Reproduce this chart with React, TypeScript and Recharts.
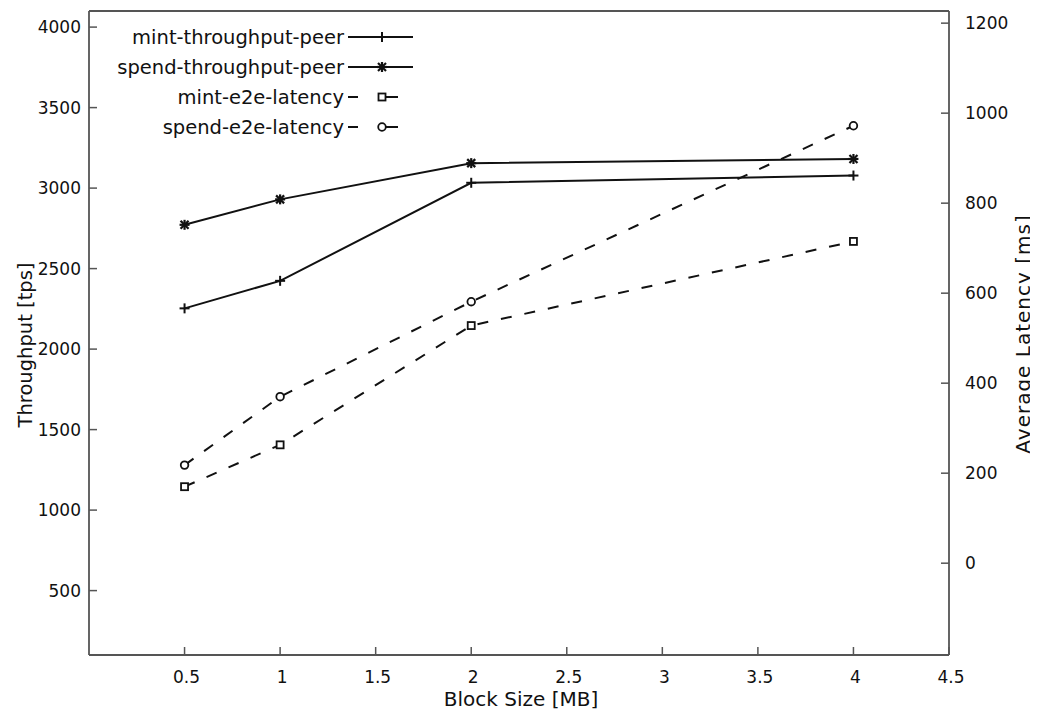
import { ComposedChart, Label, Legend, Line, XAxis, YAxis } from "recharts";

// block sizes in MB
const BLOCK_SIZES = [0.5, 1, 2, 4];

// throughput, tps (left axis)
const MINT_THROUGHPUT = [2253, 2424, 3033, 3078];
const SPEND_THROUGHPUT = [2772, 2930, 3155, 3181];

// end-to-end latency, ms (right axis)
const MINT_LATENCY = [170, 263, 528, 715];
const SPEND_LATENCY = [218, 370, 581, 972];

const X_TICKS = [0.5, 1, 1.5, 2, 2.5, 3, 3.5, 4, 4.5];
const LEFT_TICKS = [500, 1000, 1500, 2000, 2500, 3000, 3500, 4000];
const RIGHT_TICKS = [0, 200, 400, 600, 800, 1000, 1200];

const FONT = '"DejaVu Sans", Verdana, sans-serif';
const INK = "#111111";
const FRAME = "#555555";
const DASH = "11 13";

const rows = BLOCK_SIZES.map((size, i) => ({
  size,
  mintThroughput: MINT_THROUGHPUT[i],
  spendThroughput: SPEND_THROUGHPUT[i],
  mintLatency: MINT_LATENCY[i],
  spendLatency: SPEND_LATENCY[i],
}));

type MarkerKind = "plus" | "star" | "square" | "circle";

function Marker({ kind, cx, cy }: { kind: MarkerKind; cx: number; cy: number }) {
  const s = 5;
  if (kind === "plus") {
    return (
      <g stroke={INK} strokeWidth={2}>
        <line x1={cx - s} y1={cy} x2={cx + s} y2={cy} />
        <line x1={cx} y1={cy - s} x2={cx} y2={cy + s} />
      </g>
    );
  }
  if (kind === "star") {
    return (
      <g stroke={INK} strokeWidth={2.2}>
        <line x1={cx - s} y1={cy} x2={cx + s} y2={cy} />
        <line x1={cx} y1={cy - s} x2={cx} y2={cy + s} />
        <line x1={cx - 4} y1={cy - 4} x2={cx + 4} y2={cy + 4} />
        <line x1={cx - 4} y1={cy + 4} x2={cx + 4} y2={cy - 4} />
      </g>
    );
  }
  if (kind === "square") {
    return <rect x={cx - 3.5} y={cy - 3.5} width={7} height={7} fill="#fff" stroke={INK} strokeWidth={1.8} />;
  }
  return <circle cx={cx} cy={cy} r={3.8} fill="#fff" stroke={INK} strokeWidth={1.8} />;
}

function dotOf(kind: MarkerKind) {
  return (props: any) => {
    const { cx, cy, index } = props;
    if (cx == null || cy == null) return <g key={index} />;
    return (
      <g key={`${kind}-${index}`}>
        <Marker kind={kind} cx={cx} cy={cy} />
      </g>
    );
  };
}

const SERIES: { key: string; name: string; axis: string; kind: MarkerKind; dashed: boolean }[] = [
  { key: "mintThroughput", name: "mint-throughput-peer", axis: "left", kind: "plus", dashed: false },
  { key: "spendThroughput", name: "spend-throughput-peer", axis: "left", kind: "star", dashed: false },
  { key: "mintLatency", name: "mint-e2e-latency", axis: "right", kind: "square", dashed: true },
  { key: "spendLatency", name: "spend-e2e-latency", axis: "right", kind: "circle", dashed: true },
];

// gnuplot-style key: right-aligned titles with a short sample to their right
function GnuplotLegend() {
  const textEnd = 244;
  const lineStart = 248;
  const lineEnd = 313;
  const mid = 282;
  return (
    <svg width={330} height={130} style={{ display: "block", overflow: "visible" }}>
      {SERIES.map((s, i) => {
        const y = 15 + i * 30;
        return (
          <g key={s.key}>
            <text
              x={textEnd}
              y={y}
              textAnchor="end"
              dominantBaseline="central"
              fontFamily={FONT}
              fontSize={19.5}
              fill={INK}
            >
              {s.name}
            </text>
            {s.dashed ? (
              <g stroke={INK} strokeWidth={2}>
                <line x1={lineStart} y1={y} x2={lineStart + 10} y2={y} />
                <line x1={mid} y1={y} x2={298} y2={y} />
              </g>
            ) : (
              <line x1={lineStart} y1={y} x2={lineEnd} y2={y} stroke={INK} strokeWidth={2} />
            )}
            <Marker kind={s.kind} cx={mid} cy={y} />
          </g>
        );
      })}
    </svg>
  );
}

const tickStyle = { fontSize: 17, fill: INK, fontFamily: FONT };

export default function App() {
  return (
    <div style={{ margin: "-8px 0 0 -8px", width: 1038, height: 724, background: "#fff", position: "relative" }}>
      <ComposedChart width={1038} height={724} data={rows} margin={{ top: 6, right: 19, bottom: 19, left: 19 }}>
        <XAxis
          xAxisId="bottom"
          dataKey="size"
          type="number"
          domain={[0, 4.5]}
          ticks={X_TICKS}
          allowDataOverflow
          height={50}
          tickSize={-8}
          tickMargin={24}
          tick={{ ...tickStyle, dx: 2 }}
          tickLine={{ stroke: FRAME, strokeWidth: 1.5 }}
          axisLine={{ stroke: FRAME, strokeWidth: 1.8 }}
        >
          <Label
            content={() => (
              <text x={521} y={699} textAnchor="middle" dominantBaseline="central" fontFamily={FONT} fontSize={20} fill={INK}>
                Block Size [MB]
              </text>
            )}
          />
        </XAxis>
        <XAxis
          xAxisId="top"
          orientation="top"
          dataKey="size"
          type="number"
          domain={[0, 4.5]}
          ticks={X_TICKS}
          allowDataOverflow
          height={5}
          tickSize={-8}
          tick={false}
          tickLine={{ stroke: FRAME, strokeWidth: 1.5 }}
          axisLine={{ stroke: FRAME, strokeWidth: 1.8 }}
        />
        <YAxis
          yAxisId="left"
          domain={[100, 4100]}
          ticks={LEFT_TICKS}
          allowDataOverflow
          width={70}
          tickSize={-8}
          tickMargin={16}
          tick={tickStyle}
          tickLine={{ stroke: FRAME, strokeWidth: 1.5 }}
          axisLine={{ stroke: FRAME, strokeWidth: 1.8 }}
        >
          <Label
            content={() => (
              <text
                x={25}
                y={345}
                transform="rotate(-90 25 345)"
                textAnchor="middle"
                dominantBaseline="central"
                fontFamily={FONT}
                fontSize={19.5}
                fill={INK}
              >
                Throughput [tps]
              </text>
            )}
          />
        </YAxis>
        <YAxis
          yAxisId="right"
          orientation="right"
          domain={[-204, 1227]}
          ticks={RIGHT_TICKS}
          allowDataOverflow
          width={70}
          tickSize={-8}
          tickMargin={24}
          tick={tickStyle}
          tickLine={{ stroke: FRAME, strokeWidth: 1.5 }}
          axisLine={{ stroke: FRAME, strokeWidth: 1.8 }}
        >
          <Label
            content={() => (
              <text
                x={1023}
                y={334}
                transform="rotate(-90 1023 334)"
                textAnchor="middle"
                dominantBaseline="central"
                fontFamily={FONT}
                fontSize={20}
                letterSpacing={1}
                fill={INK}
              >
                Average Latency [ms]
              </text>
            )}
          />
        </YAxis>
        <Legend
          layout="horizontal"
          verticalAlign="middle"
          align="center"
          wrapperStyle={{ top: 22, left: 100, width: 330, height: 130 }}
          content={() => <GnuplotLegend />}
        />
        {SERIES.map((s) => (
          <Line
            key={s.key}
            xAxisId="bottom"
            yAxisId={s.axis}
            dataKey={s.key}
            name={s.name}
            type="linear"
            stroke={INK}
            strokeWidth={2}
            strokeDasharray={s.dashed ? DASH : undefined}
            dot={dotOf(s.kind)}
            activeDot={false}
            isAnimationActive={false}
          />
        ))}
      </ComposedChart>
    </div>
  );
}
